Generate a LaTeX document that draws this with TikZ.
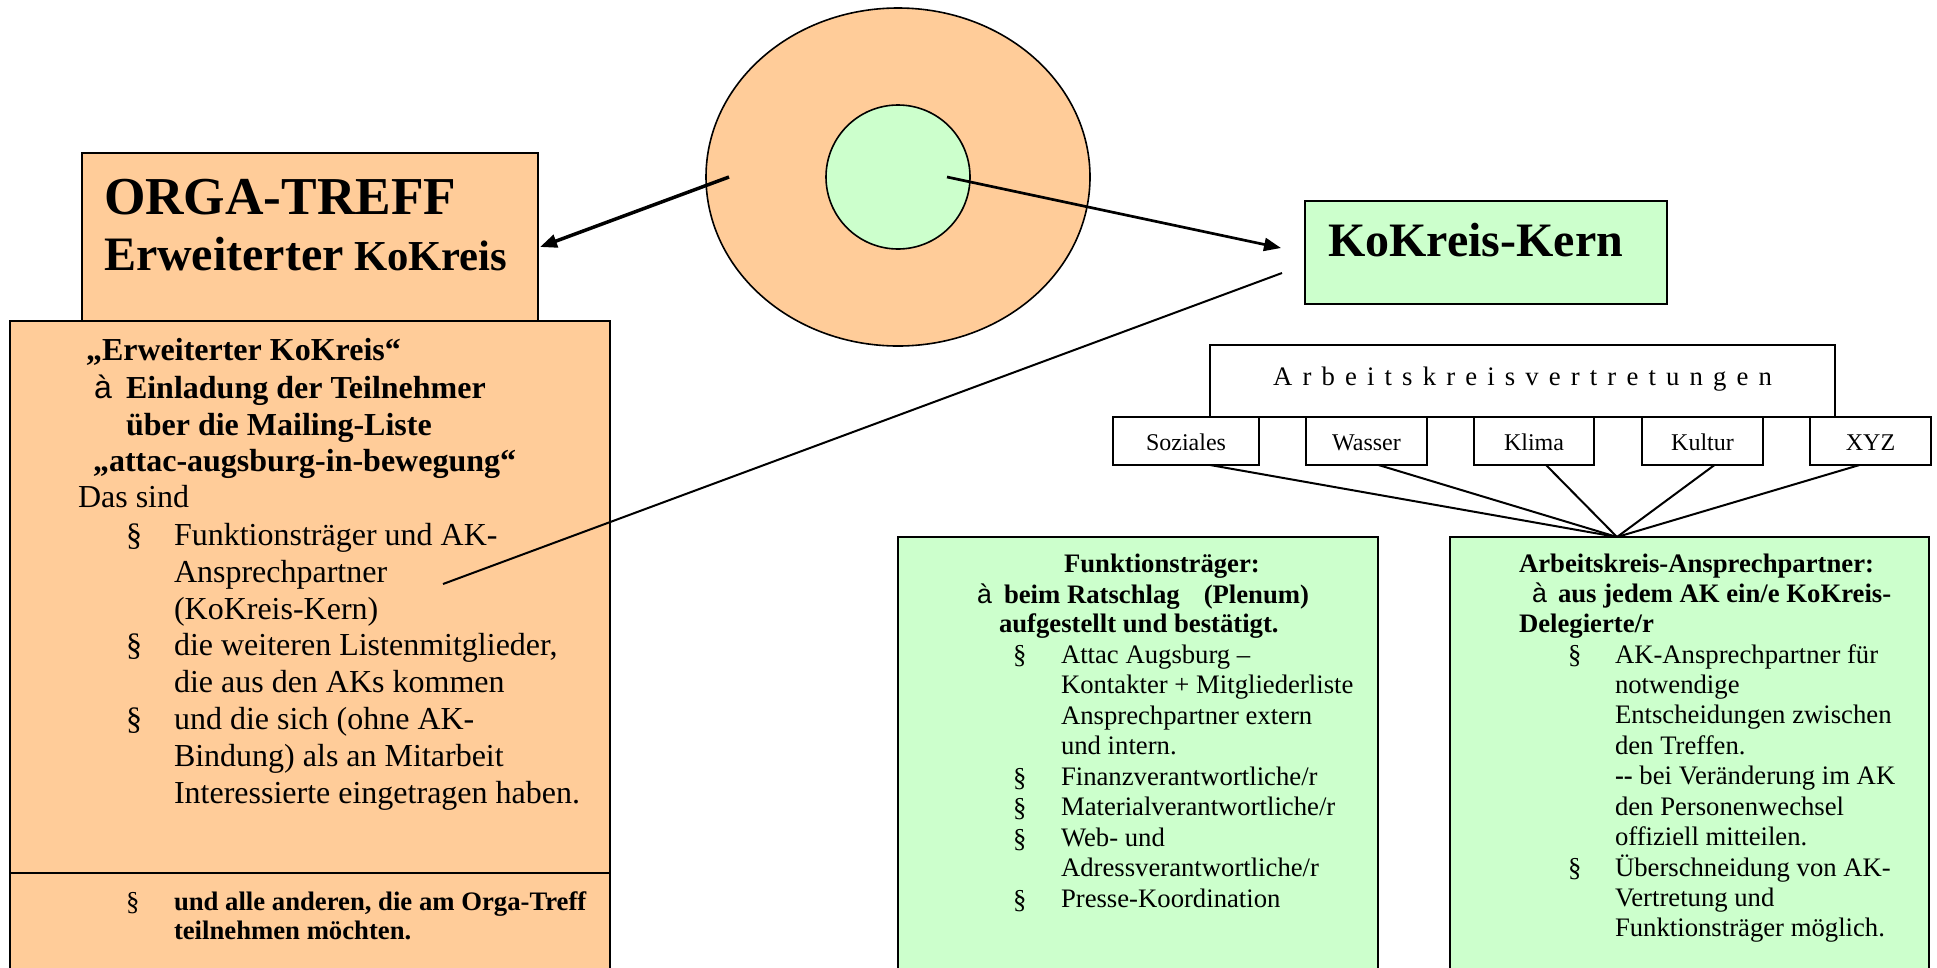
\documentclass[tikz,border=0pt]{standalone}
\usepackage{fontspec}
\setmainfont{Liberation Serif}
\newfontfamily\arrfont{Liberation Sans}
\usetikzlibrary{arrows.meta,shapes.geometric}
\definecolor{peach}{RGB}{255,204,153}
\definecolor{mint}{RGB}{204,255,204}
\newcommand\fsz[2]{\fontsize{#1}{#2}\selectfont}
\newcommand\mlines[1]{\begin{tabular}[t]{@{}l@{}}#1\end{tabular}}
\begin{document}
\begin{tikzpicture}[x=1pt,y=-1pt,
  box/.style={draw, line width=2pt, anchor=north west, inner sep=0pt, outer sep=0pt},
  obox/.style={box, fill=peach},
  gbox/.style={box, fill=mint},
  wbox/.style={draw, line width=2pt, fill=white, inner sep=0pt, outer sep=0pt},
  txt/.style={anchor=base west, inner sep=0pt, outer sep=0pt},
  big/.style={txt, font=\fsz{32}{37}},
  bigb/.style={txt, font=\fsz{32}{37}\bfseries},
  sm/.style={txt, font=\fsz{26.7}{30.5}},
  smb/.style={txt, font=\fsz{26.7}{30}\bfseries},
  arrbig/.style={txt, font=\arrfont\fsz{32}{37}},
  arrsm/.style={txt, font=\arrfont\fsz{26.7}{30}},
  conn/.style={line width=2pt},
  tip/.style={-{Triangle[length=17pt,width=13pt]}}
]
\useasboundingbox (0,0) rectangle (1937,967);
\clip (0,0) rectangle (1937,967);

% ---- circles ----
\node[draw, line width=1.6pt, fill=peach, ellipse, inner sep=0pt, minimum width=384pt, minimum height=338pt] (outer) at (898,177) {};
\node[draw, line width=1.6pt, fill=mint, circle, inner sep=0pt, minimum size=144pt] (inner) at (898,177) {};

% ---- ORGA box ----
\node[obox, minimum width=456pt, minimum height=168pt] (orga) at (82,153) {};
\node[txt, font=\fsz{53.3}{60}\bfseries] (orgat1) at (104,214) {ORGA-TREFF};
\node[txt, font=\fsz{48}{55}\bfseries] (orgat2) at (104,270) {Erweiterter};
\node[txt, font=\fsz{42.7}{50}\bfseries] (orgat3) at (354,270) {KoKreis};

% ---- lower left boxes ----
\node[obox, minimum width=600pt, minimum height=552pt] (ll) at (10,321) {};
\node[obox, minimum width=600pt, minimum height=140pt] (llb) at (10,873) {};

\node[bigb] (l1) at (86,360) {„Erweiterter KoKreis“};
\node[arrbig] (l2a) at (94,398) {à};
\node[bigb] (l2) at (126,398) {\mlines{Einladung der Teilnehmer\\über die Mailing-Liste}};
\node[bigb] (l3) at (93,471) {„attac-augsburg-in-bewegung“};
\node[big] (l4) at (78,507) {Das sind};
\foreach \yy [count=\i] in {545,655,729} \node[big] (lb\i) at (126,\yy) {§};
\node[big] (li1) at (174,545) {\mlines{Funktionsträger und AK-\\Ansprechpartner\\(KoKreis-Kern)}};
\node[big] (li2) at (174,655) {\mlines{die weiteren Listenmitglieder,\\die aus den AKs kommen}};
\node[big] (li3) at (174,729) {\mlines{und die sich (ohne AK-\\Bindung) als an Mitarbeit\\Interessierte eingetragen haben.}};
\node[sm] (lb4) at (126,910) {§};
\node[txt, font=\fsz{26.7}{29}\bfseries] (li4) at (174,910) {\mlines{und alle anderen, die am Orga-Treff\\teilnehmen möchten.}};

% ---- KoKreis-Kern ----
\node[gbox, minimum width=362pt, minimum height=103pt] (kern) at (1305,201) {};
\node[txt, font=\fsz{48}{55}\bfseries] (kernt) at (1328,256) {KoKreis-Kern};

% ---- Arbeitskreisvertretungen ----
\node[wbox, minimum width=625pt, minimum height=72pt, text height=14pt, text depth=6pt,
      font=\fsz{26.7}{30}\addfontfeatures{LetterSpace=38}] (akv) at (1522.5,381) {Arbeitskreisvertretungen};
\begin{scope}[every node/.style={wbox, minimum height=48pt, text height=22pt, text depth=4pt, font=\fsz{24}{28}}]
\node[minimum width=146pt] (soz) at (1186,441) {Soziales};
\node[minimum width=121pt] (was) at (1366.5,441) {Wasser};
\node[minimum width=120pt] (kli) at (1534,441) {Klima};
\node[minimum width=121pt] (kul) at (1702.5,441) {Kultur};
\node[minimum width=121pt] (xyz) at (1870.5,441) {XYZ};
\end{scope}

% ---- green boxes ----
\node[gbox, minimum width=480pt, minimum height=460pt] (ft) at (898,537) {};
\node[gbox, minimum width=479pt, minimum height=460pt] (ak) at (1450,537) {};

\node[smb] (f1) at (1064,572) {Funktionsträger:};
\node[arrsm] (f2a) at (977,603) {à};
\node[smb] (f2) at (1004,603) {beim Ratschlag\hspace*{24pt}(Plenum)};
\node[smb] (f3) at (999,632) {aufgestellt und bestätigt.};
\foreach \yy [count=\i] in {663,786,816,847,908} \node[sm] (fb\i) at (1013,\yy) {§};
\node[sm] (fi) at (1061,663) {\mlines{Attac Augsburg –\\Kontakter + Mitgliederliste\\Ansprechpartner extern\\und intern.\\Finanzverantwortliche/r\\Materialverantwortliche/r\\Web- und\\Adressverantwortliche/r\\Presse-Koordination}};

\node[smb] (a1) at (1519,572) {Arbeitskreis-Ansprechpartner:};
\node[arrsm] (a2a) at (1532,602) {à};
\node[smb] (a2) at (1558,602) {aus jedem AK ein/e KoKreis-};
\node[smb] (a3) at (1519,632) {Delegierte/r};
\foreach \yy [count=\i] in {663,876} \node[sm] (ab\i) at (1568,\yy) {§};
\node[txt, font=\fsz{26.7}{30.4}] (ai) at (1615,663) {\mlines{AK-Ansprechpartner für\\notwendige\\Entscheidungen zwischen\\den Treffen.\\\textbf{-{}-} bei Veränderung im AK\\den Personenwechsel\\offiziell mitteilen.\\Überschneidung von AK-\\Vertretung und\\Funktionsträger möglich.}};

% ---- connectors ----
\coordinate (a1s) at (729,177);
\coordinate (a1e) at (540,247);
\draw[line width=3.5pt, tip] (a1s) -- (a1e);
\coordinate (a2s) at (947,177);
\coordinate (a2e) at (1281,248);
\draw[line width=2.7pt, tip] (a2s) -- (a2e);
\coordinate (ls) at (1282,273);
\coordinate (le) at (443,584);
\draw[conn] (ls) -- (le);
\coordinate (conv) at (1617,537);
\draw[conn] ([xshift=24pt]soz.south) -- (conv);
\draw[conn] ([xshift=12pt]was.south) -- (conv);
\draw[conn] ([xshift=12pt]kli.south) -- (conv);
\draw[conn] ([xshift=12pt]kul.south) -- (conv);
\draw[conn] ([xshift=-11pt]xyz.south) -- (conv);
\end{tikzpicture}
\end{document}
